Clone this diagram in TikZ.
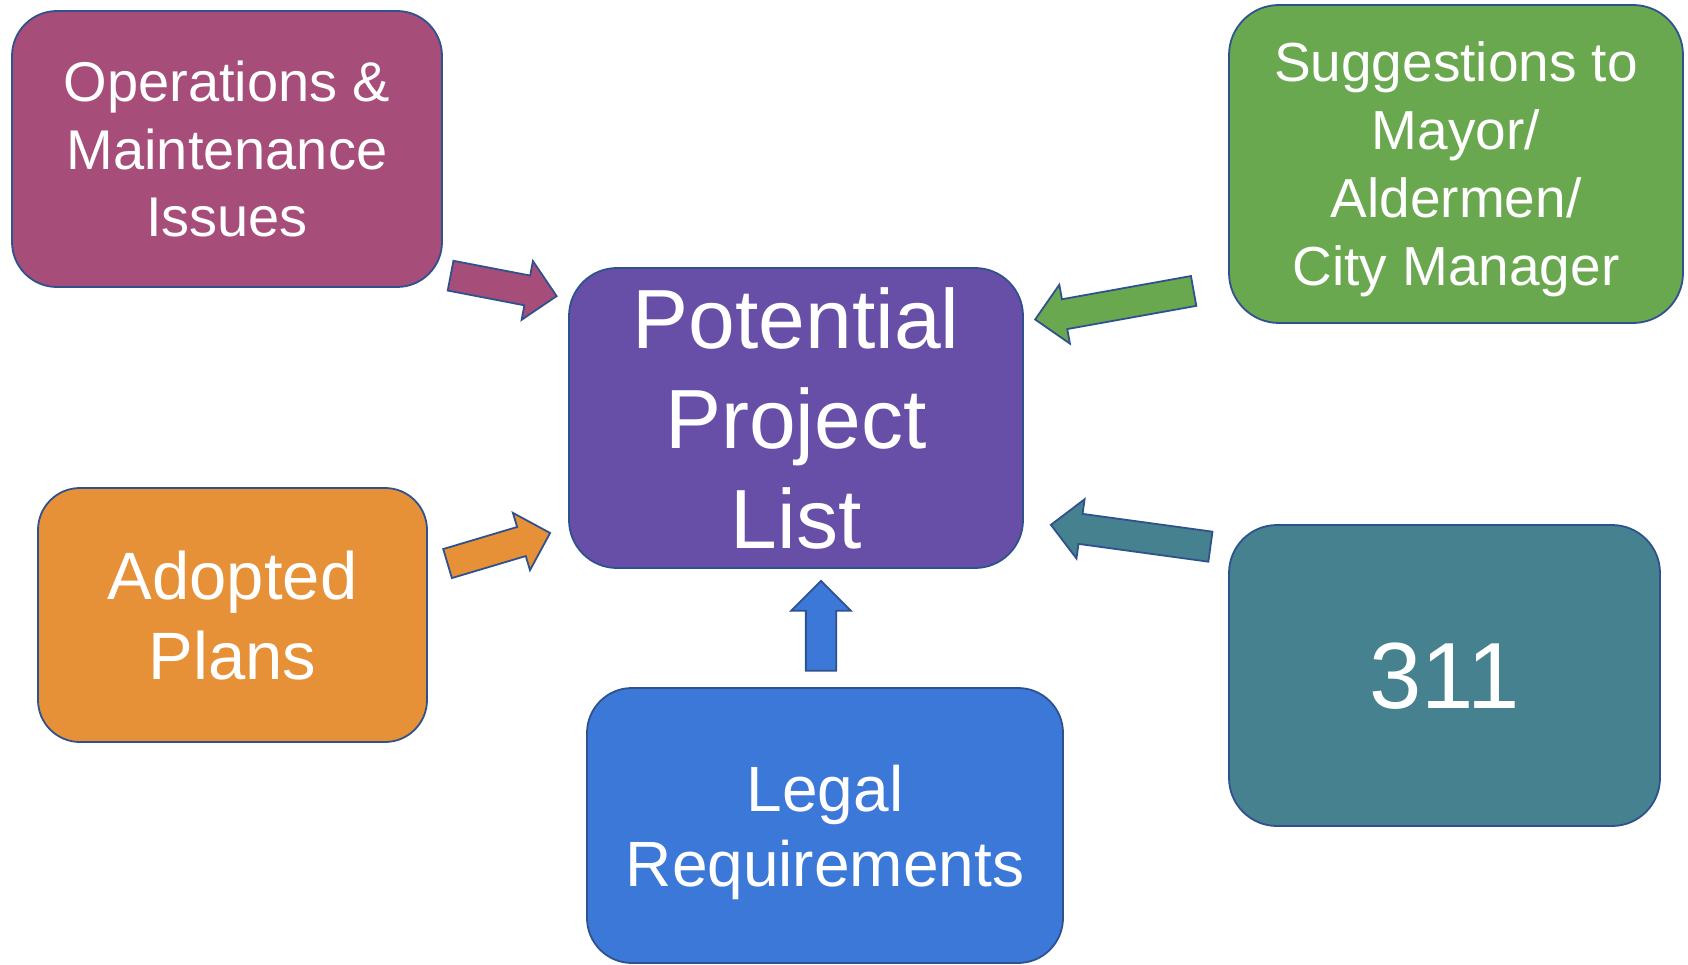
\documentclass[tikz,border=0pt]{standalone}
\usepackage{fontspec}
\setmainfont{Liberation Sans}
\usepackage{tikz}
\usetikzlibrary{shapes.arrows}

\definecolor{opsmagenta}{HTML}{A64D79}
\definecolor{listpurple}{HTML}{674EA7}
\definecolor{suggreen}{HTML}{6AA84F}
\definecolor{planorange}{HTML}{E69138}
\definecolor{legalblue}{HTML}{3C78D8}
\definecolor{callteal}{HTML}{45818E}
\definecolor{rimblue}{HTML}{2F528F}

\begin{document}
\begin{tikzpicture}[x=1pt, y=-1pt,
    srcbox/.style={draw=rimblue, line width=1.8pt, rounded corners=45pt, text=white,
      align=center, text depth=0pt, inner sep=0pt},
    feed/.style={single arrow, draw=rimblue, line width=1.8pt, anchor=tail,
      inner xsep=0pt, inner ysep=14.25pt, text height=0pt, text depth=0pt,
      single arrow head extend=14.75pt, single arrow tip angle=90,
      single arrow head indent=0pt, minimum width=1pt}]
      \path[fill=white] (0, 0) rectangle (1688, 965);
      % boxes
      \node[srcbox, fill=opsmagenta, minimum width=430pt, minimum height=276pt,
        font=\fontsize{56}{67.5}\selectfont] (ops) at (227, 149)
        {Operations \&\\Maintenance\\Issues};
      \node[srcbox, fill=listpurple, minimum width=454pt, minimum height=300pt,
        rounded corners=48pt, font=\fontsize{84}{100}\selectfont] (list) at (796, 418)
        {Potential\\Project\\List};
      \node[srcbox, fill=suggreen, minimum width=454pt, minimum height=318pt,
        rounded corners=50pt, font=\fontsize{55}{68}\selectfont] (sugg) at (1456, 164)
        {Suggestions to\\Mayor/\\Aldermen/\\City Manager};
      \node[srcbox, fill=planorange, minimum width=389pt, minimum height=254pt,
        rounded corners=42pt, font=\fontsize{67}{80}\selectfont] (plans) at (232.5, 615)
        {Adopted\\Plans};
      \node[srcbox, fill=legalblue, minimum width=476pt, minimum height=275pt,
        font=\fontsize{64}{75}\selectfont] (legal) at (825, 825.5)
        {Legal\\Requirements};
      \node[srcbox, fill=callteal, minimum width=431pt, minimum height=301pt,
        rounded corners=48pt, font=\fontsize{94}{110}\selectfont] (call) at (1444.5, 675.5)
        {311};
      % block arrows into the list
      \node[feed, fill=opsmagenta, minimum height=108pt, rotate=-10.9] (opsarrow) at (449.7, 275.5) {};
      \node[feed, fill=suggreen, minimum height=161pt, rotate=-169.8] (suggarrow) at (1194.5, 290.8) {};
      \node[feed, fill=planorange, minimum height=107pt, rotate=16.6] (plansarrow) at (446.7, 563.8) {};
      \node[feed, fill=callteal, minimum height=161pt, rotate=172.2] (callarrow) at (1211.3, 546.8) {};
      \node[feed, fill=legalblue, minimum height=90pt, rotate=90] (legalarrow) at (821, 671.7) {};
\end{tikzpicture}
\end{document}
